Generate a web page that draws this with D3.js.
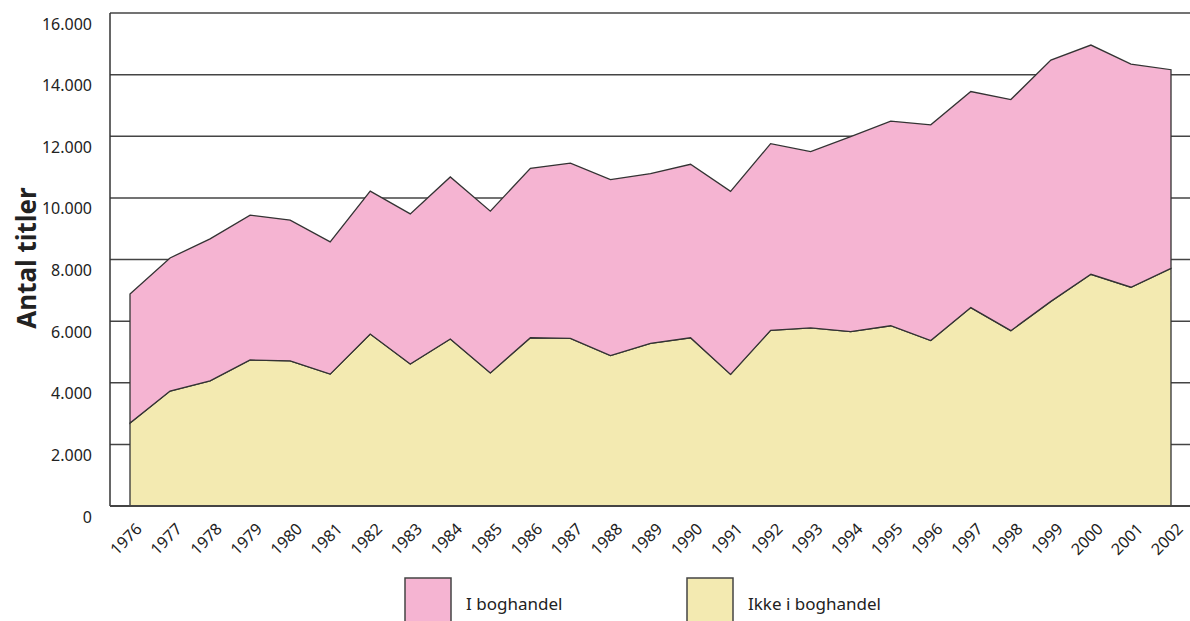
<!DOCTYPE html>
<meta charset="utf-8">
<head>
  <title>Antal titler</title>
</head>
<style>
  html, body {
    margin: 0;
    padding: 0;
    background: #fff;
    overflow: hidden;
    font-family: "Noto Sans", Arial, sans-serif;
  }
  .grid line { stroke: #444; stroke-width: 1.5; }
  .tick-label { font-size: 16px; fill: #222; }
  .year-label { font-size: 16px; fill: #222; }
  .legend text { font-size: 17px; fill: #222; }
</style>
<body>
<svg id="chart" width="1190" height="621"></svg>
<script src="https://d3js.org/d3.v7.min.js"></script>
<script>
var years = [1976, 1977, 1978, 1979, 1980, 1981, 1982, 1983, 1984, 1985, 1986, 1987, 1988, 1989,
  1990, 1991, 1992, 1993, 1994, 1995, 1996, 1997, 1998, 1999, 2000, 2001, 2002];

// titler ikke i boghandel (bottom layer)
var ikkeBoghandel = [2690, 3730, 4060, 4740, 4710, 4280, 5580, 4610, 5420, 4320, 5460, 5440, 4880, 5280,
  5460, 4270, 5700, 5780, 5660, 5850, 5370, 6440, 5690, 6640, 7520, 7100, 7710];

// titler i boghandel (stacked on top)
var iBoghandel = [4190, 4320, 4610, 4700, 4570, 4290, 4640, 4870, 5260, 5250, 5500, 5690, 5710, 5510,
  5630, 5940, 6060, 5720, 6330, 6640, 7000, 7010, 7500, 7830, 7440, 7240, 6450];

var yTicks = [0, 2000, 4000, 6000, 8000, 10000, 12000, 14000, 16000];
var legendLabels = ["I boghandel", "Ikke i boghandel"];
var colors = { ikke: "#f3eab1", i: "#f5b4d2" };

var svg = d3.select("#chart");

var x = d3.scaleLinear().domain([1976, 2002]).range([130, 1171]);
var y = d3.scaleLinear().domain([0, 16000]).range([506, 13]);

var rows = years.map(function(yr, i) {
  return { year: yr, ikke: ikkeBoghandel[i], i: iBoghandel[i] };
});

var stack = d3.stack().keys(["ikke", "i"]);
var series = stack(rows);

// gridlines
svg.append("g").attr("class", "grid")
  .selectAll("line").data(yTicks).enter()
  .append("line")
  .attr("x1", 110).attr("x2", 1190)
  .attr("y1", function(d) { return y(d) })
  .attr("y2", function(d) { return y(d) });

svg.append("line")
  .attr("x1", 110).attr("x2", 110)
  .attr("y1", y(16000)).attr("y2", y(0))
  .attr("stroke", "#333").attr("stroke-width", 1.5);

var area = d3.area()
  .x(function(d) { return x(d.data.year) })
  .y0(function(d) { return y(d[0]) })
  .y1(function(d) { return y(d[1]) });

svg.append("g").selectAll("path").data(series).enter()
  .append("path")
  .attr("d", area)
  .attr("fill", function(d) { return colors[d.key] })
  .attr("stroke", "#333")
  .attr("stroke-width", 1.3)
  .attr("stroke-linejoin", "miter");

// bottom axis line over the areas
svg.append("line")
  .attr("x1", 110).attr("x2", 1190)
  .attr("y1", y(0)).attr("y2", y(0))
  .attr("stroke", "#444").attr("stroke-width", 2);

// y tick labels
var fmt = function(v) { return d3.format(",")(v).replace(/,/g, ".") };
svg.append("g").selectAll("text").data(yTicks).enter()
  .append("text")
  .attr("class", "tick-label")
  .attr("x", 92)
  .attr("y", function(d) { return y(d) + 11 })
  .attr("dy", "0.35em")
  .attr("text-anchor", "end")
  .text(fmt);

// year labels
svg.append("g").selectAll("text").data(years).enter()
  .append("text")
  .attr("class", "year-label")
  .attr("text-anchor", "end")
  .attr("transform", function(d) { return "translate(" + (x(d) + 13) + ",530) rotate(-45)" })
  .text(function(d) { return d });

// y axis title
svg.append("text")
  .attr("transform", "translate(36,258) rotate(-90)")
  .attr("text-anchor", "middle")
  .style("font-size", "26px")
  .style("font-weight", "bold")
  .style("fill", "#222")
  .text("Antal titler");

// legend
var legend = svg.append("g").attr("class", "legend");
var legendX = [405, 687];
var legendColors = [colors.i, colors.ikke];
legendLabels.forEach(function(lbl, i) {
  legend.append("rect")
    .attr("x", legendX[i]).attr("y", 578)
    .attr("width", 46).attr("height", 50)
    .attr("fill", legendColors[i])
    .attr("stroke", "#444").attr("stroke-width", 1.5);
  legend.append("text")
    .attr("x", legendX[i] + 61).attr("y", 604)
    .attr("dy", "0.35em")
    .text(lbl);
});
</script>
</body>
